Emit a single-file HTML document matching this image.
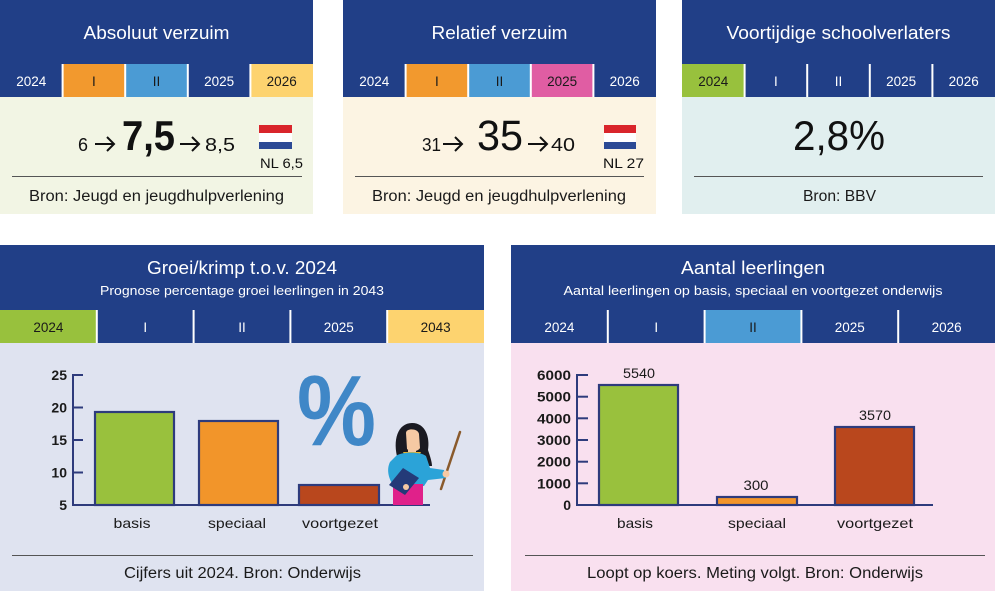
<!DOCTYPE html>
<html>
<head>
<meta charset="utf-8">
<style>
  html,body{margin:0;padding:0;background:#ffffff;}
  svg{display:block;}
  text{font-family:"Liberation Sans",sans-serif;}
</style>
</head>
<body>
<svg width="995" height="594" viewBox="0 0 995 594" xmlns="http://www.w3.org/2000/svg">
  <rect x="0" y="0" width="995" height="594" fill="#ffffff"/>

  <!-- ============ PANEL 1 ============ -->
  <rect x="0" y="0" width="313" height="64" fill="#213f87"/>
  <rect x="0" y="97" width="313" height="117" fill="#f2f5e4"/>
  <rect x="0" y="64" width="62.6" height="33" fill="#213f87"/>
  <rect x="62.6" y="64" width="62.6" height="33" fill="#f2992e"/>
  <rect x="125.2" y="64" width="62.6" height="33" fill="#4b9bd4"/>
  <rect x="187.8" y="64" width="62.6" height="33" fill="#213f87"/>
  <rect x="250.4" y="64" width="62.6" height="33" fill="#fdd36f"/>
  <g stroke="#ffffff" stroke-width="2">
    <line x1="62.6" y1="64" x2="62.6" y2="97"/><line x1="125.2" y1="64" x2="125.2" y2="97"/>
    <line x1="187.8" y1="64" x2="187.8" y2="97"/><line x1="250.4" y1="64" x2="250.4" y2="97"/>
  </g>
  <text x="156.5" y="39" font-size="18.5" fill="#ffffff" text-anchor="middle" textLength="146" lengthAdjust="spacingAndGlyphs">Absoluut verzuim</text>
  <g font-size="13.5" text-anchor="middle">
    <text x="31.3" y="86" fill="#ffffff">2024</text>
    <text x="93.9" y="86" fill="#1a1a1a">I</text>
    <text x="156.5" y="86" fill="#1a1a1a">II</text>
    <text x="219.1" y="86" fill="#ffffff">2025</text>
    <text x="281.7" y="86" fill="#1a1a1a">2026</text>
  </g>
  <text x="78" y="151" font-size="18" fill="#111" textLength="10" lengthAdjust="spacingAndGlyphs">6</text>
  <g stroke="#111" stroke-width="2" fill="none"><line x1="95" y1="144" x2="114" y2="144"/><polyline points="107,137 114,144 107,151"/></g>
  <text x="122" y="150" font-size="42" font-weight="bold" fill="#111" textLength="53" lengthAdjust="spacingAndGlyphs">7,5</text>
  <g stroke="#111" stroke-width="2" fill="none"><line x1="180" y1="144" x2="199" y2="144"/><polyline points="192,137 199,144 192,151"/></g>
  <text x="205" y="151" font-size="18" fill="#111" textLength="30" lengthAdjust="spacingAndGlyphs">8,5</text>
  <rect x="259" y="125" width="33" height="8" fill="#d9252b"/>
  <rect x="259" y="133" width="33" height="9" fill="#ffffff"/>
  <rect x="259" y="142" width="33" height="7" fill="#2c4a95"/>
  <text x="260" y="168" font-size="14" fill="#111" textLength="43" lengthAdjust="spacingAndGlyphs">NL 6,5</text>
  <line x1="12" y1="176.5" x2="302" y2="176.5" stroke="#555" stroke-width="1"/>
  <text x="29" y="201" font-size="15.5" fill="#1a1a1a" textLength="255" lengthAdjust="spacingAndGlyphs">Bron: Jeugd en jeugdhulpverlening</text>

  <!-- ============ PANEL 2 ============ -->
  <rect x="343" y="0" width="313" height="64" fill="#213f87"/>
  <rect x="343" y="97" width="313" height="117" fill="#fcf4e3"/>
  <rect x="343" y="64" width="62.6" height="33" fill="#213f87"/>
  <rect x="405.6" y="64" width="62.6" height="33" fill="#f2992e"/>
  <rect x="468.2" y="64" width="62.6" height="33" fill="#4b9bd4"/>
  <rect x="530.8" y="64" width="62.6" height="33" fill="#e05da3"/>
  <rect x="593.4" y="64" width="62.6" height="33" fill="#213f87"/>
  <g stroke="#ffffff" stroke-width="2">
    <line x1="405.6" y1="64" x2="405.6" y2="97"/><line x1="468.2" y1="64" x2="468.2" y2="97"/>
    <line x1="530.8" y1="64" x2="530.8" y2="97"/><line x1="593.4" y1="64" x2="593.4" y2="97"/>
  </g>
  <text x="499.5" y="39" font-size="18.5" fill="#ffffff" text-anchor="middle" textLength="136" lengthAdjust="spacingAndGlyphs">Relatief verzuim</text>
  <g font-size="13.5" text-anchor="middle">
    <text x="374.3" y="86" fill="#ffffff">2024</text>
    <text x="436.9" y="86" fill="#1a1a1a">I</text>
    <text x="499.5" y="86" fill="#1a1a1a">II</text>
    <text x="562.1" y="86" fill="#1a1a1a">2025</text>
    <text x="624.7" y="86" fill="#ffffff">2026</text>
  </g>
  <text x="422" y="151" font-size="18" fill="#111" textLength="19" lengthAdjust="spacingAndGlyphs">31</text>
  <g stroke="#111" stroke-width="2" fill="none"><line x1="443" y1="144" x2="462" y2="144"/><polyline points="455,137 462,144 455,151"/></g>
  <text x="477" y="150" font-size="43" fill="#111" textLength="46" lengthAdjust="spacingAndGlyphs">35</text>
  <g stroke="#111" stroke-width="2" fill="none"><line x1="528" y1="144" x2="547" y2="144"/><polyline points="540,137 547,144 540,151"/></g>
  <text x="551" y="151" font-size="18" fill="#111" textLength="24" lengthAdjust="spacingAndGlyphs">40</text>
  <rect x="604" y="125" width="32" height="8" fill="#d9252b"/>
  <rect x="604" y="133" width="32" height="9" fill="#ffffff"/>
  <rect x="604" y="142" width="32" height="7" fill="#2c4a95"/>
  <text x="603" y="168" font-size="14" fill="#111" textLength="41" lengthAdjust="spacingAndGlyphs">NL 27</text>
  <line x1="355" y1="176.5" x2="644" y2="176.5" stroke="#555" stroke-width="1"/>
  <text x="372" y="201" font-size="15.5" fill="#1a1a1a" textLength="254" lengthAdjust="spacingAndGlyphs">Bron: Jeugd en jeugdhulpverlening</text>

  <!-- ============ PANEL 3 ============ -->
  <rect x="682" y="0" width="313" height="64" fill="#213f87"/>
  <rect x="682" y="97" width="313" height="117" fill="#e1efef"/>
  <rect x="682" y="64" width="62.6" height="33" fill="#98c13d"/>
  <rect x="744.6" y="64" width="250.4" height="33" fill="#213f87"/>
  <g stroke="#ffffff" stroke-width="2">
    <line x1="744.6" y1="64" x2="744.6" y2="97"/><line x1="807.2" y1="64" x2="807.2" y2="97"/>
    <line x1="869.8" y1="64" x2="869.8" y2="97"/><line x1="932.4" y1="64" x2="932.4" y2="97"/>
  </g>
  <text x="838.5" y="39" font-size="18.5" fill="#ffffff" text-anchor="middle" textLength="224" lengthAdjust="spacingAndGlyphs">Voortijdige schoolverlaters</text>
  <g font-size="13.5" text-anchor="middle">
    <text x="713.3" y="86" fill="#1a1a1a">2024</text>
    <text x="775.9" y="86" fill="#ffffff">I</text>
    <text x="838.5" y="86" fill="#ffffff">II</text>
    <text x="901.1" y="86" fill="#ffffff">2025</text>
    <text x="963.7" y="86" fill="#ffffff">2026</text>
  </g>
  <text x="793" y="150" font-size="42" fill="#111" textLength="92" lengthAdjust="spacingAndGlyphs">2,8%</text>
  <line x1="694" y1="176.5" x2="983" y2="176.5" stroke="#555" stroke-width="1"/>
  <text x="803" y="201" font-size="15.5" fill="#1a1a1a" textLength="73" lengthAdjust="spacingAndGlyphs">Bron: BBV</text>

  <!-- ============ PANEL 4 ============ -->
  <rect x="0" y="245" width="484" height="65" fill="#213f87"/>
  <rect x="0" y="343" width="484" height="248" fill="#dfe3f0"/>
  <rect x="0" y="310" width="96.8" height="33" fill="#98c13d"/>
  <rect x="96.8" y="310" width="290.4" height="33" fill="#213f87"/>
  <rect x="387.2" y="310" width="96.8" height="33" fill="#fdd36f"/>
  <g stroke="#ffffff" stroke-width="2">
    <line x1="96.8" y1="310" x2="96.8" y2="343"/><line x1="193.6" y1="310" x2="193.6" y2="343"/>
    <line x1="290.4" y1="310" x2="290.4" y2="343"/><line x1="387.2" y1="310" x2="387.2" y2="343"/>
  </g>
  <text x="242" y="274" font-size="18.5" fill="#ffffff" text-anchor="middle" textLength="190" lengthAdjust="spacingAndGlyphs">Groei/krimp t.o.v. 2024</text>
  <text x="242" y="295" font-size="13" fill="#ffffff" text-anchor="middle" textLength="284" lengthAdjust="spacingAndGlyphs">Prognose percentage groei leerlingen in 2043</text>
  <g font-size="13.5" text-anchor="middle">
    <text x="48.4" y="332" fill="#1a1a1a">2024</text>
    <text x="145.2" y="332" fill="#ffffff">I</text>
    <text x="242" y="332" fill="#ffffff">II</text>
    <text x="338.8" y="332" fill="#ffffff">2025</text>
    <text x="435.6" y="332" fill="#1a1a1a">2043</text>
  </g>
  <!-- chart -->
  <g stroke="#2e3b7c" stroke-width="2.2">
    <rect x="95" y="412" width="79" height="93" fill="#99c13d"/>
    <rect x="199" y="421" width="79" height="84" fill="#f2952a"/>
    <rect x="299" y="485" width="80" height="20" fill="#b9471d"/>
  </g>
  <g stroke="#2e3b7c" stroke-width="2" fill="none">
    <line x1="73" y1="374" x2="73" y2="506"/>
    <line x1="72" y1="505" x2="430" y2="505"/>
    <line x1="73" y1="375" x2="83" y2="375"/>
    <line x1="73" y1="407.5" x2="83" y2="407.5"/>
    <line x1="73" y1="440" x2="83" y2="440"/>
    <line x1="73" y1="472.5" x2="83" y2="472.5"/>
  </g>
  <g font-size="14" font-weight="bold" fill="#1a1a1a" text-anchor="end">
    <text x="67" y="380">25</text>
    <text x="67" y="412.5">20</text>
    <text x="67" y="445">15</text>
    <text x="67" y="477.5">10</text>
    <text x="67" y="510">5</text>
  </g>
  <g font-size="14" fill="#1a1a1a" text-anchor="middle">
    <text x="132" y="528" textLength="37" lengthAdjust="spacingAndGlyphs">basis</text>
    <text x="237" y="528" textLength="58" lengthAdjust="spacingAndGlyphs">speciaal</text>
    <text x="340" y="528" textLength="76" lengthAdjust="spacingAndGlyphs">voortgezet</text>
  </g>
  <!-- percent sign -->
  <text x="297" y="445" font-size="100" font-weight="bold" fill="#3f87c7" textLength="79" lengthAdjust="spacingAndGlyphs">%</text>
  <!-- teacher illustration -->
  <g>
    <line x1="460" y1="432" x2="441" y2="489" stroke="#8a5a2c" stroke-width="2.5" stroke-linecap="round"/>
    <path d="M398,460 C392,440 398,423 412,423 C426,423 430,438 428,450 C430,456 432,462 432,466 L420,466 L404,466 Z" fill="#1a1a22"/>
    <path d="M406,433 C406,428 418,428 419,434 L420,448 C418,452 410,452 407,449 Z" fill="#f6c9a3"/>
    <rect x="408" y="447" width="8" height="7" fill="#f6c9a3"/>
    <path d="M403,452 L421,452 L418,458 L406,458 Z" fill="#e8b52e"/>
    <path d="M396,456 C400,452 420,451 426,456 L430,468 L444,470 L446,478 L428,480 L424,486 L394,486 C389,480 386,470 390,462 Z" fill="#2ba3d8"/>
    <circle cx="446" cy="474" r="3.5" fill="#f6c9a3"/>
    <rect x="393" y="484" width="30" height="21" fill="#e0218a"/>
    <path d="M389,485 L403,468 L419,478 L405,495 Z" fill="#243a78"/>
    <circle cx="406" cy="487" r="3" fill="#f6c9a3"/>
  </g>
  <line x1="12" y1="555.5" x2="473" y2="555.5" stroke="#555" stroke-width="1"/>
  <text x="124" y="578" font-size="15.5" fill="#1a1a1a" textLength="237" lengthAdjust="spacingAndGlyphs">Cijfers uit 2024. Bron: Onderwijs</text>

  <!-- ============ PANEL 5 ============ -->
  <rect x="511" y="245" width="484" height="65" fill="#213f87"/>
  <rect x="511" y="343" width="484" height="248" fill="#f9e0ef"/>
  <rect x="511" y="310" width="484" height="33" fill="#213f87"/>
  <rect x="704.6" y="310" width="96.8" height="33" fill="#4b9bd4"/>
  <g stroke="#ffffff" stroke-width="2">
    <line x1="607.8" y1="310" x2="607.8" y2="343"/><line x1="704.6" y1="310" x2="704.6" y2="343"/>
    <line x1="801.4" y1="310" x2="801.4" y2="343"/><line x1="898.2" y1="310" x2="898.2" y2="343"/>
  </g>
  <text x="753" y="274" font-size="18.5" fill="#ffffff" text-anchor="middle" textLength="144" lengthAdjust="spacingAndGlyphs">Aantal leerlingen</text>
  <text x="753" y="295" font-size="13" fill="#ffffff" text-anchor="middle" textLength="379" lengthAdjust="spacingAndGlyphs">Aantal leerlingen op basis, speciaal en voortgezet onderwijs</text>
  <g font-size="13.5" text-anchor="middle">
    <text x="559.4" y="332" fill="#ffffff">2024</text>
    <text x="656.2" y="332" fill="#ffffff">I</text>
    <text x="753" y="332" fill="#1a1a1a">II</text>
    <text x="849.8" y="332" fill="#ffffff">2025</text>
    <text x="946.6" y="332" fill="#ffffff">2026</text>
  </g>
  <g stroke="#2e3b7c" stroke-width="2.2">
    <rect x="599" y="385" width="79" height="120" fill="#99c13d"/>
    <rect x="717" y="497" width="80" height="8" fill="#f2952a"/>
    <rect x="835" y="427" width="79" height="78" fill="#b9471d"/>
  </g>
  <g stroke="#2e3b7c" stroke-width="2" fill="none">
    <line x1="577" y1="374" x2="577" y2="506"/>
    <line x1="576" y1="505" x2="933" y2="505"/>
    <line x1="577" y1="375" x2="588" y2="375"/>
    <line x1="577" y1="396.7" x2="588" y2="396.7"/>
    <line x1="577" y1="418.3" x2="588" y2="418.3"/>
    <line x1="577" y1="440" x2="588" y2="440"/>
    <line x1="577" y1="461.7" x2="588" y2="461.7"/>
    <line x1="577" y1="483.3" x2="588" y2="483.3"/>
  </g>
  <g font-size="14" font-weight="bold" fill="#1a1a1a" text-anchor="end">
    <text x="571" y="380" textLength="34" lengthAdjust="spacingAndGlyphs">6000</text>
    <text x="571" y="401.7" textLength="34" lengthAdjust="spacingAndGlyphs">5000</text>
    <text x="571" y="423.3" textLength="34" lengthAdjust="spacingAndGlyphs">4000</text>
    <text x="571" y="445" textLength="34" lengthAdjust="spacingAndGlyphs">3000</text>
    <text x="571" y="466.7" textLength="34" lengthAdjust="spacingAndGlyphs">2000</text>
    <text x="571" y="488.3" textLength="34" lengthAdjust="spacingAndGlyphs">1000</text>
    <text x="571" y="510">0</text>
  </g>
  <g font-size="14" fill="#1a1a1a" text-anchor="middle">
    <text x="639" y="378" textLength="32" lengthAdjust="spacingAndGlyphs">5540</text>
    <text x="756" y="490" textLength="25" lengthAdjust="spacingAndGlyphs">300</text>
    <text x="875" y="420" textLength="32" lengthAdjust="spacingAndGlyphs">3570</text>
    <text x="635" y="528" textLength="36" lengthAdjust="spacingAndGlyphs">basis</text>
    <text x="757" y="528" textLength="58" lengthAdjust="spacingAndGlyphs">speciaal</text>
    <text x="875" y="528" textLength="76" lengthAdjust="spacingAndGlyphs">voortgezet</text>
  </g>
  <line x1="525" y1="555.5" x2="985" y2="555.5" stroke="#555" stroke-width="1"/>
  <text x="587" y="578" font-size="15.5" fill="#1a1a1a" textLength="336" lengthAdjust="spacingAndGlyphs">Loopt op koers. Meting volgt. Bron: Onderwijs</text>
</svg>
</body>
</html>
